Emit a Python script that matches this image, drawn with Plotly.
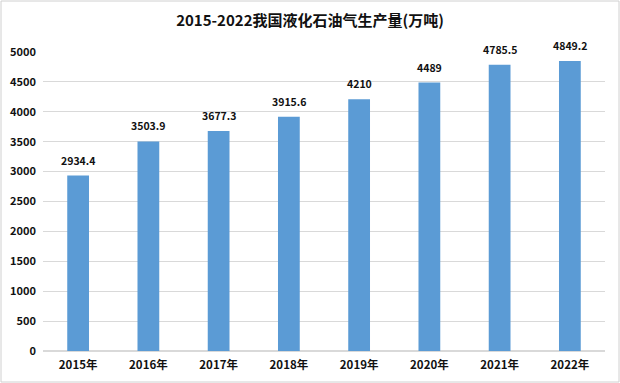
import plotly.graph_objects as go

years = ["2015年", "2016年", "2017年", "2018年", "2019年", "2020年", "2021年", "2022年"]
output = [2934.4, 3503.9, 3677.3, 3915.6, 4210, 4489, 4785.5, 4849.2]
labels = ["2934.4", "3503.9", "3677.3", "3915.6", "4210", "4489", "4785.5", "4849.2"]
title = "2015-2022我国液化石油气生产量(万吨)"

font_family = "Noto Sans CJK SC, Noto Sans, sans-serif"

fig = go.Figure(go.Bar(
    x=years, y=output,
    marker=dict(color="#5b9bd5", line=dict(width=0)),
    hoverinfo="x+y",
))

for xv, yv, lab in zip(years, output, labels):
    fig.add_annotation(x=xv, y=yv, text="<b>" + lab + "</b>", showarrow=False,
                       xanchor="center", yanchor="bottom", yshift=6,
                       font=dict(size=10.5, color="#111111", family=font_family))

fig.update_layout(
    width=620, height=383,
    margin=dict(l=43, r=15, t=52, b=32, autoexpand=False),
    paper_bgcolor="white", plot_bgcolor="white",
    title=dict(text="<b>" + title + "</b>", x=0.5, xanchor="center", y=0.947, yanchor="middle",
               font=dict(size=15, color="#111111", family=font_family)),
    bargap=0.69,
    showlegend=False,
    xaxis=dict(showgrid=False, showline=False, ticks="", automargin=False,
               tickmode="array", tickvals=years, ticktext=["<b>" + y + "</b>" for y in years],
               tickfont=dict(size=11.5, color="#111111", family=font_family),
               ticklabelstandoff=5),
    yaxis=dict(range=[0, 5000], dtick=500, showgrid=True, gridcolor="#d9d9d9", gridwidth=1,
               zeroline=True, zerolinecolor="#d9d9d9", showline=False, ticks="", automargin=False,
               tickprefix="<b>", ticksuffix="</b>",
               tickfont=dict(size=11, color="#111111", family=font_family),
               ticklabelstandoff=6),
    shapes=[dict(type="rect", xref="paper", yref="paper", x0=-42/562, x1=1 + 14/562,
                 y0=-31/299, y1=1 + 51/299, line=dict(color="#d0d0d0", width=1))],
    font=dict(family=font_family),
)

fig.write_html("out.html", config={"displayModeBar": False},
               post_script="document.body.style.margin='0';document.body.style.padding='0';")
